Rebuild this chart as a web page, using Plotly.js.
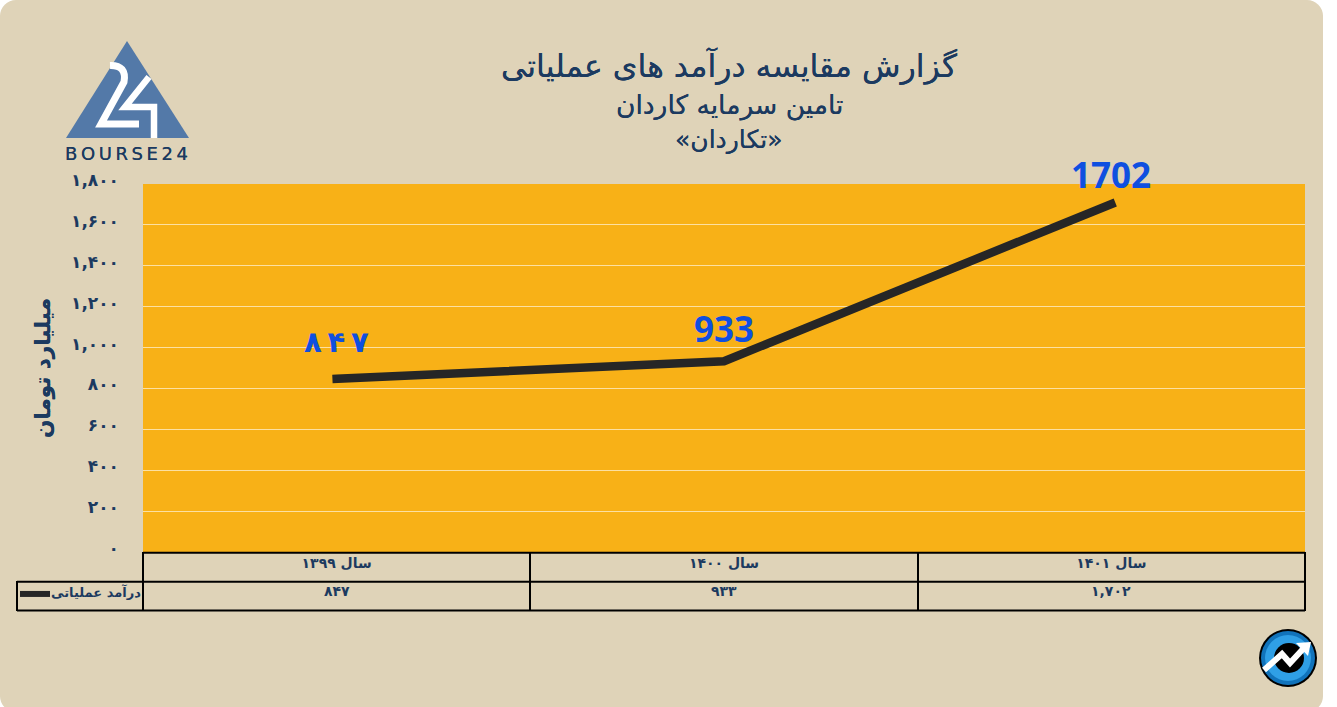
<!DOCTYPE html>
<html><head><meta charset="utf-8">
<script src="https://cdn.plot.ly/plotly-3.0.1.min.js"></script>
<style>
html,body{margin:0;padding:0;background:#fff;overflow:hidden}
#c{width:1337px;height:707px;position:relative}
#bg{position:absolute;left:0;top:0;width:1323px;height:712px;background:#dfd3b8;border-radius:16px}
#wrap{position:relative;width:1337px;height:707px;overflow:hidden}
.scatterlayer .js-line{stroke-linecap:square !important;stroke-linejoin:miter !important}
.legendlines path{stroke-width:6px !important;transform:translateX(4px)}
.legendtext{transform:translateY(-2px)}
</style></head><body><div id="wrap"><div id="bg"></div><div id="c"></div></div>
<script>
const W=1337,H=707;
const categories=['سال ۱۳۹۹','سال ۱۴۰۰','سال ۱۴۰۱'];
const revenue=[847,933,1702];
const seriesName='درآمد عملیاتی';
const tableValues=['۸۴۷','۹۳۳','۱,۷۰۲'];
const dataLabels=['۸\u2009۴\u2009۷','933','1702'];
const yTickValues=[0,200,400,600,800,1000,1200,1400,1600,1800];
const yTickLabels=['۰','۲۰۰','۴۰۰','۶۰۰','۸۰۰','۱,۰۰۰','۱,۲۰۰','۱,۴۰۰','۱,۶۰۰','۱,۸۰۰'];
const titleLines=['گزارش مقایسه درآمد های عملیاتی','تامین سرمایه کاردان','«تکاردان»'];
const yTitle='میلیارد تومان';
const logoText='B\u2009O\u2009U\u2009R\u2009S\u2009E\u20092\u20094';

const NAVY='#1c3a60', FF='"DejaVu Sans", sans-serif', SH='0 0 0.4px #1c3a60';
const X=p=>p/W, Y=p=>1-p/H;
const P=pts=>pts.map((q,i)=>(i?'L':'M')+X(q[0])+','+Y(q[1])).join(' ');
const pshape=(path,o)=>Object.assign({type:'path',xref:'paper',yref:'paper',path:path,layer:'above',line:{width:0}},o);
const circ=(cx,cy,r,fill)=>({type:'circle',xref:'paper',yref:'paper',x0:X(cx-r),x1:X(cx+r),y0:Y(cy+r),y1:Y(cy-r),fillcolor:fill,line:{width:0},layer:'above'});
const hline=(x0,x1,y)=>({type:'line',xref:'paper',yref:'paper',x0:X(x0),x1:X(x1),y0:Y(y),y1:Y(y),line:{color:'#000',width:2},layer:'above'});
const vline=(x,y0,y1)=>({type:'line',xref:'paper',yref:'paper',x0:X(x),x1:X(x),y0:Y(y0),y1:Y(y1),line:{color:'#000',width:2},layer:'above'});
const noFill='rgba(0,0,0,0)';

const shapes=[
 // BOURSE24 triangle mark
 pshape(P([[127,41],[189,138],[66,138]])+' Z',{fillcolor:'#5379a8'}),
 pshape(`M${X(110)},${Y(65.5)} Q${X(127)},${Y(65)} ${X(124)},${Y(82)} L${X(101)},${Y(124)} L${X(139)},${Y(124)}`,{line:{color:'#fff',width:7},fillcolor:noFill}),
 pshape(P([[149,77],[125,107],[154,107],[154,138]]),{line:{color:'#fff',width:6.5},fillcolor:noFill}),
 // table grid
 hline(143,1305,552.7),hline(17,1305,581.7),hline(17,1305,610.5),
 vline(17,581,611),vline(143,552,611),vline(530,552,611),vline(918,552,611),vline(1305,552,611),
 // round badge
 circ(1288,658,29,'#000'),circ(1288,658,27,'#1173bb'),circ(1288,658,23,'#2f9fe6'),circ(1289,658,15,'#000'),
 pshape(P([[1264,670],[1282,654],[1290,663],[1303,649]]),{line:{color:'#fff',width:6},fillcolor:noFill}),
 pshape(P([[1296,643],[1311,642],[1308,656]])+' Z',{fillcolor:'#fff'})
];

const note=(xref,yref,x,y,text,font,extra)=>Object.assign({xref,yref,x,y,text,font,showarrow:false,xanchor:'center',yanchor:'middle'},extra||{});
const ann=[
 note('paper','paper',X(729),Y(105),titleLines[1],{family:FF,size:26.5,color:NAVY,shadow:SH}),
 note('paper','paper',X(729),Y(139),titleLines[2],{family:FF,size:25,color:NAVY,shadow:SH}),
 note('paper','paper',X(127),Y(153),logoText,{family:FF,size:18,color:NAVY,shadow:SH})
];
const labelFonts=[{family:FF,size:29,color:'#0f4fe0',weight:700},{family:'"Noto Sans",sans-serif',size:35,color:'#0f4fe0',weight:700},{family:'"Noto Sans",sans-serif',size:35,color:'#0f4fe0',weight:700}];
const labelShift=[37,33,30];
revenue.forEach((v,i)=>{
 ann.push(note('x','y',i,v,dataLabels[i],labelFonts[i],{yshift:labelShift[i]}));
 ann.push(note('x','paper',i,Y(591),tableValues[i],{family:FF,size:14,color:NAVY,weight:700}));
});

const trace={type:'scatter',mode:'lines',x:categories,y:revenue,name:seriesName,line:{color:'#262626',width:8.5},hoverinfo:'x+y'};

const layout={
 width:W,height:H,margin:{l:0,r:0,t:0,b:0},
 paper_bgcolor:'rgba(0,0,0,0)',plot_bgcolor:'#f8b117',
 title:{text:titleLines[0],x:X(729),xref:'paper',xanchor:'center',y:Y(65.5),yref:'paper',yanchor:'middle',font:{family:FF,size:31.6,color:NAVY,shadow:SH}},
 xaxis:{domain:[X(143),X(1305)],type:'category',range:[-0.5,2.5],categoryorder:'array',categoryarray:categories,
   showgrid:false,zeroline:false,showline:false,ticks:'',ticklabelstandoff:1,
   tickfont:{family:FF,size:14,color:NAVY,weight:700},automargin:false},
 yaxis:{domain:[Y(552),Y(184)],range:[0,1800],tickmode:'array',tickvals:yTickValues,ticktext:yTickLabels,
   showgrid:true,gridcolor:'rgba(255,255,255,0.6)',gridwidth:1,zeroline:false,showline:false,ticks:'',
   ticklabelstandoff:23,ticklabelshift:-4,tickfont:{family:FF,size:17,color:NAVY,weight:700},automargin:false,
   title:{text:yTitle,standoff:14,font:{family:FF,size:21.5,color:NAVY,weight:700,shadow:'0 0 0.6px #1c3a60'}}},
 showlegend:true,
 legend:{x:X(11),y:Y(594),xanchor:'left',yanchor:'middle',bgcolor:'rgba(0,0,0,0)',itemwidth:30,font:{family:FF,size:13,color:NAVY,weight:700}},
 shapes:shapes,annotations:ann
};
Plotly.newPlot('c',[trace],layout,{displayModeBar:false,responsive:false});
</script></body></html>
